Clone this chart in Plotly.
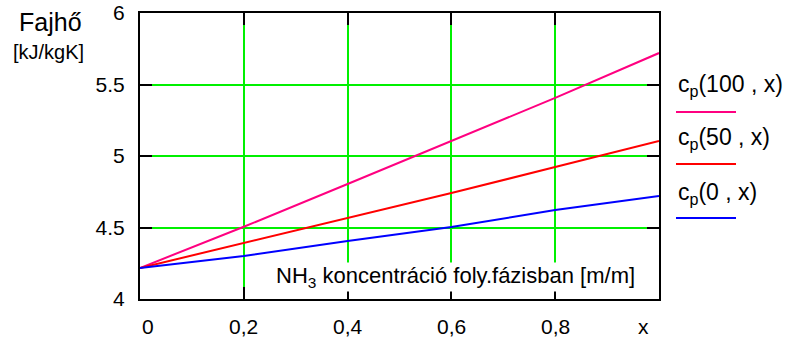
import plotly.graph_objects as go

# ---- data ----
x_vals = [0.0, 0.2, 0.4, 0.6, 0.8, 1.0]
cp100 = [4.217, 4.505, 4.804, 5.105, 5.406, 5.72]
cp50 = [4.217, 4.39, 4.566, 4.741, 4.923, 5.105]
cp0 = [4.217, 4.30, 4.406, 4.503, 4.622, 4.72]

series_names = ["c<sub>p</sub>(100 , x)", "c<sub>p</sub>(50 , x)", "c<sub>p</sub>(0 , x)"]
series_colors = ["#ff0080", "#ff0000", "#0000ff"]

x_ticks = [0, 0.2, 0.4, 0.6, 0.8, 1.0]
x_tick_labels = ["0", "0,2", "0,4", "0,6", "0,8", "x"]
y_ticks = [4, 4.5, 5, 5.5, 6]
y_tick_labels = ["4", "4.5", "5", "5.5", "6"]

FONT = "Arial, Liberation Sans, sans-serif"

# plot area geometry (pixels)
W, H = 791, 340
L, R, T, B = 140, 132, 13, 41
PW, PH = W - L - R, H - T - B

def px(xp):
    return (xp - L) / PW

def py(yp):
    return (H - B - yp) / PH

fig = go.Figure()
for ys, name, col in zip([cp100, cp50, cp0], series_names, series_colors):
    fig.add_trace(go.Scatter(x=x_vals, y=ys, mode="lines", name=name,
                             line=dict(color=col, width=2), showlegend=False))

axis_common = dict(showline=True, linecolor="black", linewidth=2, mirror="ticks",
                   ticks="inside", ticklen=12, tickwidth=2, tickcolor="black",
                   showgrid=True, gridcolor="#00f000", gridwidth=2, zeroline=False,
                   automargin=False)

fig.update_xaxes(range=[0, 1], tickvals=x_ticks, showticklabels=False, **axis_common)
fig.update_yaxes(range=[4, 6], tickvals=y_ticks, ticktext=y_tick_labels,
                 tickfont=dict(family=FONT, size=21, color="black"),
                 ticklabelstandoff=9, **axis_common)

annotations = []
# x tick labels
shifts = {0: 8, len(x_ticks) - 1: -16}
for i, (v, t) in enumerate(zip(x_ticks, x_tick_labels)):
    annotations.append(dict(x=v, y=4, xref="x", yref="y", text=t, showarrow=False,
                            xanchor="center", yanchor="middle", yshift=-27,
                            xshift=shifts.get(i, 0),
                            font=dict(family=FONT, size=21, color="black")))
# y title
annotations.append(dict(x=px(50), y=py(22), xref="paper", yref="paper", text="Fajhő",
                        showarrow=False, xanchor="center", yanchor="middle",
                        font=dict(family=FONT, size=25, color="black")))
annotations.append(dict(x=px(48), y=py(52), xref="paper", yref="paper", text="[kJ/kgK]",
                        showarrow=False, xanchor="center", yanchor="middle",
                        font=dict(family=FONT, size=20, color="black")))
# x title inside plot
annotations.append(dict(x=px(455), y=py(277), xref="paper", yref="paper",
                        text="NH<sub>3</sub> koncentráció foly.fázisban [m/m]",
                        showarrow=False, xanchor="center", yanchor="middle",
                        bgcolor="white", borderpad=0,
                        font=dict(family=FONT, size=22, color="black")))

# legend (custom): text with coloured line beneath
leg_text_y = [86, 138, 193]
leg_line_y = [112, 164, 218]
shapes = []
for name, col, ty, ly in zip(series_names, series_colors, leg_text_y, leg_line_y):
    annotations.append(dict(x=px(676), y=py(ty), xref="paper", yref="paper", text=name,
                            showarrow=False, xanchor="left", yanchor="middle",
                            font=dict(family=FONT, size=23, color="black")))
    shapes.append(dict(type="line", xref="paper", yref="paper",
                       x0=px(676), x1=px(736), y0=py(ly), y1=py(ly),
                       line=dict(color=col, width=2)))

fig.update_layout(width=W, height=H, margin=dict(l=L, r=R, t=T, b=B),
                  paper_bgcolor="white", plot_bgcolor="white",
                  annotations=annotations, shapes=shapes)

fig.write_html("out.html")
